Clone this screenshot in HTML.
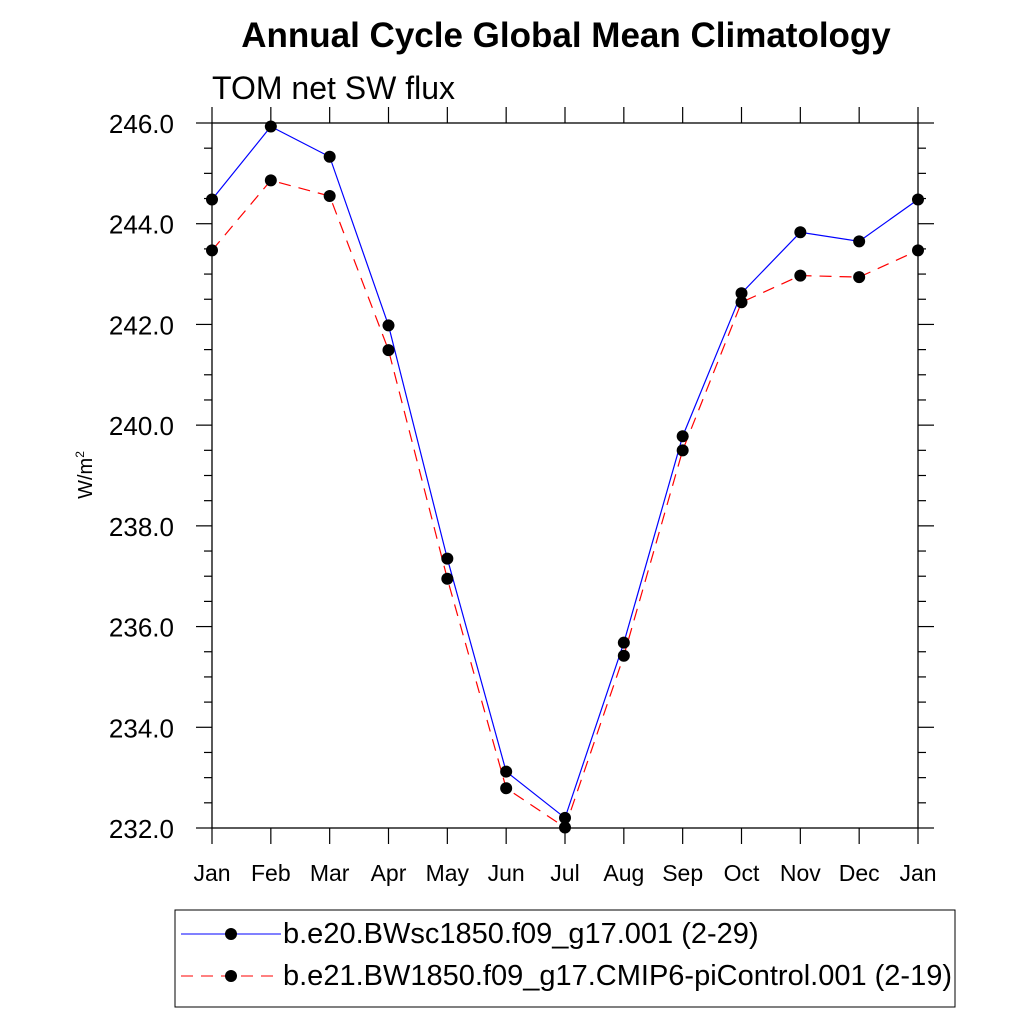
<!DOCTYPE html>
<html><head><meta charset="utf-8"><style>
body{margin:0;background:#fff}
svg text{font-family:"Liberation Sans",sans-serif}
</style></head><body>
<svg id="chart" width="1024" height="1024" xmlns="http://www.w3.org/2000/svg">
<rect width="1024" height="1024" fill="#fff"/>
<text x="566" y="47" text-anchor="middle" font-size="35" font-weight="bold">Annual Cycle Global Mean Climatology</text>
<text x="212" y="99" font-size="32">TOM net SW flux</text>
<text transform="translate(92,475) rotate(-90)" text-anchor="middle" font-size="20">W/m<tspan dy="-8" font-size="12">2</tspan></text>
<g id="axes"></g>
<g id="series"></g>
<rect x="175" y="910" width="780" height="97" fill="none" stroke="#000" stroke-width="1"/>
<g>
<line x1="181" y1="934" x2="281" y2="934" stroke="#0000ff" stroke-width="1"/>
<circle cx="231" cy="934" r="6" fill="#000"/>
<text x="283" y="943" font-size="29">b.e20.BWsc1850.f09_g17.001 (2-29)</text>
</g>
<g>
<line x1="181" y1="976" x2="281" y2="976" stroke="#ff0000" stroke-width="1" stroke-dasharray="12,8"/>
<circle cx="231" cy="976" r="6" fill="#000"/>
<text x="283" y="985" font-size="29">b.e21.BW1850.f09_g17.CMIP6-piControl.001 (2-19)</text>
</g>
</svg>
<script>
const months=["Jan","Feb","Mar","Apr","May","Jun","Jul","Aug","Sep","Oct","Nov","Dec","Jan"];
const blueValues=[244.48,245.93,245.33,241.98,237.35,233.12,232.2,235.68,239.78,242.62,243.83,243.65,244.48];
const redValues=[243.47,244.86,244.55,241.49,236.95,232.79,232.01,235.42,239.5,242.44,242.97,242.94,243.47];
const yTicks=[232,234,236,238,240,242,244,246];
const L=212,R=918,T=123,B=828,yMin=232,yMax=246;
const xs=i=>L+(R-L)*i/(months.length-1);
const ys=v=>B-(v-yMin)/(yMax-yMin)*(B-T);
const NS="http://www.w3.org/2000/svg";
function mk(tag,attrs,parent,txt){const e=document.createElementNS(NS,tag);for(const k in attrs)e.setAttribute(k,attrs[k]);if(txt!==undefined)e.textContent=txt;parent.appendChild(e);return e;}
const ax=document.getElementById('axes');
const frame=mk('rect',{x:L,y:T,width:R-L,height:B-T,fill:'none',stroke:'#000','stroke-width':1.3},ax);


for(let v=yMin;v<=yMax+1e-9;v+=0.5){
  const y=ys(v);const major=Math.abs(v-Math.round(v/2)*2)<1e-6;const len=major?16:8;
  mk('line',{x1:L-len,y1:y,x2:L,y2:y,stroke:'#000','stroke-width':1.2},ax);
  mk('line',{x1:R,y1:y,x2:R+len,y2:y,stroke:'#000','stroke-width':1.2},ax);
}
yTicks.forEach(v=>{
  const t=mk('text',{x:174,y:ys(v)+10,'text-anchor':'end','font-size':26},ax,v.toFixed(1));
  
  
});
months.forEach((m,i)=>{
  const x=xs(i);
  mk('line',{x1:x,y1:B,x2:x,y2:B+16,stroke:'#000','stroke-width':1.2},ax);
  mk('line',{x1:x,y1:T-16,x2:x,y2:T,stroke:'#000','stroke-width':1.2},ax);
  const t=mk('text',{x:x,y:881,'text-anchor':'middle','font-size':23},ax,m);
  
  
});
const sg=document.getElementById('series');
function drawSeries(vals,color,dash,name){
  const pts=vals.map((v,i)=>xs(i)+','+ys(v)).join(' ');
  const pl=mk('polyline',{points:pts,fill:'none',stroke:color,'stroke-width':1.2,'stroke-dasharray':dash},sg);
  
  
}
function drawMarkers(vals,name){
  vals.forEach((v,i)=>{
    const c=mk('circle',{cx:xs(i),cy:ys(v),r:6,fill:'#000'},sg);
    
    
  });
}
drawSeries(blueValues,'#0000ff','none','blue-series');
drawSeries(redValues,'#ff0000','12,8','red-series');
drawMarkers(blueValues,'blue-series');
drawMarkers(redValues,'red-series');
</script>
</body></html>
